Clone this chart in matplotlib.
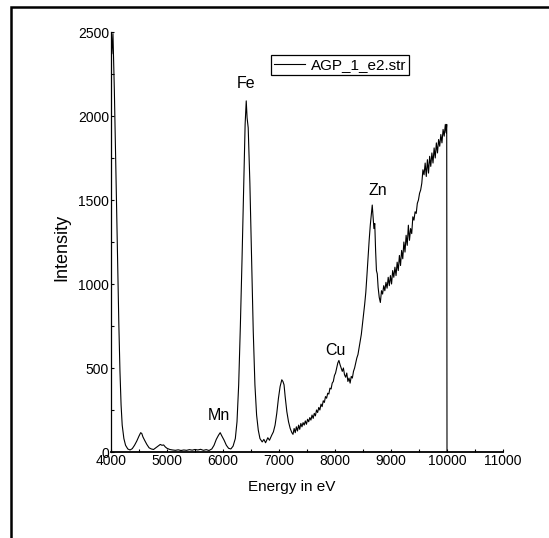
import matplotlib
matplotlib.use("Agg")
import matplotlib.pyplot as plt
from matplotlib.patches import Rectangle
from matplotlib.ticker import MultipleLocator

plt.rcParams["font.family"] = ["Liberation Sans", "DejaVu Sans"]

# XRF spectrum: energy (eV) and detector counts
energy = [
    4000, 4015, 4035, 4060, 4080, 4100, 4120, 4140, 4160, 4180, 4200, 4230, 4260,
    4300, 4340, 4380, 4420, 4460, 4500, 4530, 4550, 4570, 4600, 4640, 4680, 4720,
    4760, 4800, 4840, 4880, 4910, 4940, 4970, 5000, 5050, 5100, 5150, 5200, 5250,
    5300, 5350, 5400, 5450, 5500, 5550, 5600, 5650, 5700, 5750, 5800, 5840, 5880,
    5920, 5950, 5980, 6020, 6060, 6100, 6140, 6180, 6220, 6250, 6280, 6310, 6340,
    6370, 6395, 6415, 6430, 6450, 6480, 6510, 6540, 6570, 6600, 6630, 6660, 6700,
    6730, 6760, 6800, 6830, 6870, 6900, 6930, 6960, 6990, 7020, 7050, 7070, 7090,
    7110, 7140, 7170, 7200, 7230, 7250,
    7270, 7290, 7310, 7330, 7350, 7370, 7390, 7410, 7430, 7450, 7470, 7490, 7510,
    7530, 7550, 7570, 7590, 7610, 7630, 7650, 7670, 7690, 7710, 7730, 7750, 7770,
    7790, 7810, 7830, 7850, 7870, 7890, 7910, 7930, 7950, 7970, 7990, 8010, 8030,
    8050, 8070, 8090, 8110, 8130, 8150, 8170, 8190, 8210, 8230, 8250, 8270, 8290,
    8310, 8330, 8350, 8370, 8390, 8410, 8430, 8450, 8470, 8490, 8510, 8530, 8550,
    8570, 8590, 8610, 8630, 8650, 8665, 8680, 8695, 8710, 8725, 8740, 8755, 8770,
    8790, 8810, 8830, 8850, 8870, 8890, 8910, 8930, 8950, 8970, 8990, 9010, 9030,
    9050, 9070, 9090, 9110, 9130, 9150, 9170, 9190, 9210, 9230, 9250, 9270, 9290,
    9310, 9330, 9350, 9370, 9390, 9410, 9430, 9450, 9470, 9490, 9510, 9530, 9550,
    9570, 9590, 9610, 9630, 9650, 9670, 9690, 9710, 9730, 9750, 9770, 9790, 9810,
    9830, 9850, 9870, 9890, 9910, 9930, 9950, 9970, 9985, 9995, 10000,
]
intensity = [
    2500, 2370, 2490, 2150, 1800, 1480, 1100, 760, 480, 280, 160, 80, 40,
    18, 12, 20, 40, 65, 95, 115, 110, 90, 70, 45, 25, 18,
    15, 25, 35, 45, 40, 42, 30, 22, 15, 12, 10, 13, 9,
    12, 10, 14, 11, 15, 12, 16, 10, 14, 9, 18, 40, 75,
    100, 115, 95, 70, 40, 22, 18, 35, 80, 180, 400, 750, 1150,
    1600, 1950, 2090, 1990, 1930, 1600, 1150, 720, 400, 220, 130, 80, 60,
    75, 55, 85, 70, 100, 120, 160, 230, 320, 390, 430, 420, 400,
    330, 240, 180, 140, 115, 105,
    140, 115, 150, 125, 160, 135, 170, 150, 175, 160, 185, 165, 195,
    180, 205, 190, 220, 200, 230, 215, 250, 235, 265, 250, 285, 270,
    305, 295, 330, 320, 350, 345, 380, 375, 410, 420, 455, 470, 500,
    530, 545, 520, 500, 480, 500, 460, 445, 470, 420, 440, 410, 450,
    440, 480, 500, 530, 560, 580, 620, 660, 700, 760, 820, 880, 950,
    1050, 1160, 1260, 1350, 1420, 1470, 1400, 1330, 1360, 1200, 1080, 1060, 980,
    920, 890, 960, 940, 990, 960, 1010, 975, 1040, 990, 1050, 1000, 1080,
    1040, 1100, 1050, 1130, 1080, 1170, 1110, 1200, 1150, 1250, 1190, 1290, 1230,
    1350, 1260, 1330, 1300, 1400, 1380, 1430, 1420, 1480, 1500, 1540, 1560, 1600,
    1680, 1650, 1720, 1640, 1740, 1660, 1760, 1700, 1780, 1720, 1810, 1750, 1840,
    1780, 1860, 1820, 1890, 1840, 1920, 1880, 1950, 1900, 1950, 0,
]

series_name = "AGP_1_e2.str"
x_title = "Energy in eV"
y_title = "Intensity"

# element lines: symbol, energy and label height
elements = ["Fe", "Mn", "Cu", "Zn"]
element_x = [6411, 5934, 8000, 8768]
element_y = [2196, 220, 607, 1555]

W, H = 549, 538
fig = plt.figure(figsize=(W / 100, H / 100), dpi=100)
ax = fig.add_axes([111 / W, 1 - 452 / H, 392 / W, 420 / H])

ax.plot(energy, intensity, color="black", lw=0.8, label=series_name)

ax.set_xlim(4000, 11000)
ax.set_ylim(0, 2500)
ax.xaxis.set_major_locator(MultipleLocator(1000))
ax.xaxis.set_minor_locator(MultipleLocator(500))
ax.yaxis.set_major_locator(MultipleLocator(500))
ax.yaxis.set_minor_locator(MultipleLocator(250))
ax.tick_params(which="both", direction="in", length=2.5, width=0.8,
               labelsize=10, pad=1.5)

for side in ("top", "right"):
    ax.spines[side].set_visible(False)
ax.spines["bottom"].set_linewidth(1.3)
ax.spines["left"].set_linewidth(0.9)

for sym, ex, ey in zip(elements, element_x, element_y):
    ax.text(ex, ey, sym, ha="center", va="center", fontsize=11.5)

fig.text(292 / W, 1 - 487 / H, x_title, ha="center", va="center", fontsize=11)
fig.text(62 / W, 1 - 247 / H, y_title, ha="center", va="center",
         rotation=90, fontsize=13)

leg = ax.legend(loc="upper left", bbox_to_anchor=(271 / W, 1 - 55 / H),
                bbox_transform=fig.transFigure, fontsize=11, frameon=True,
                fancybox=False, framealpha=1, edgecolor="black",
                borderpad=0.2, borderaxespad=0, handlelength=2.0,
                handletextpad=0.4)
leg.get_frame().set_linewidth(0.9)

# outer frame around the figure
fig.patches.append(Rectangle((11 / W, -0.1), 1.2, 1 - 7 / H + 0.1,
                             transform=fig.transFigure, fill=False,
                             edgecolor="black", lw=1.8, clip_on=False))

fig.savefig("out.png", dpi=100)
